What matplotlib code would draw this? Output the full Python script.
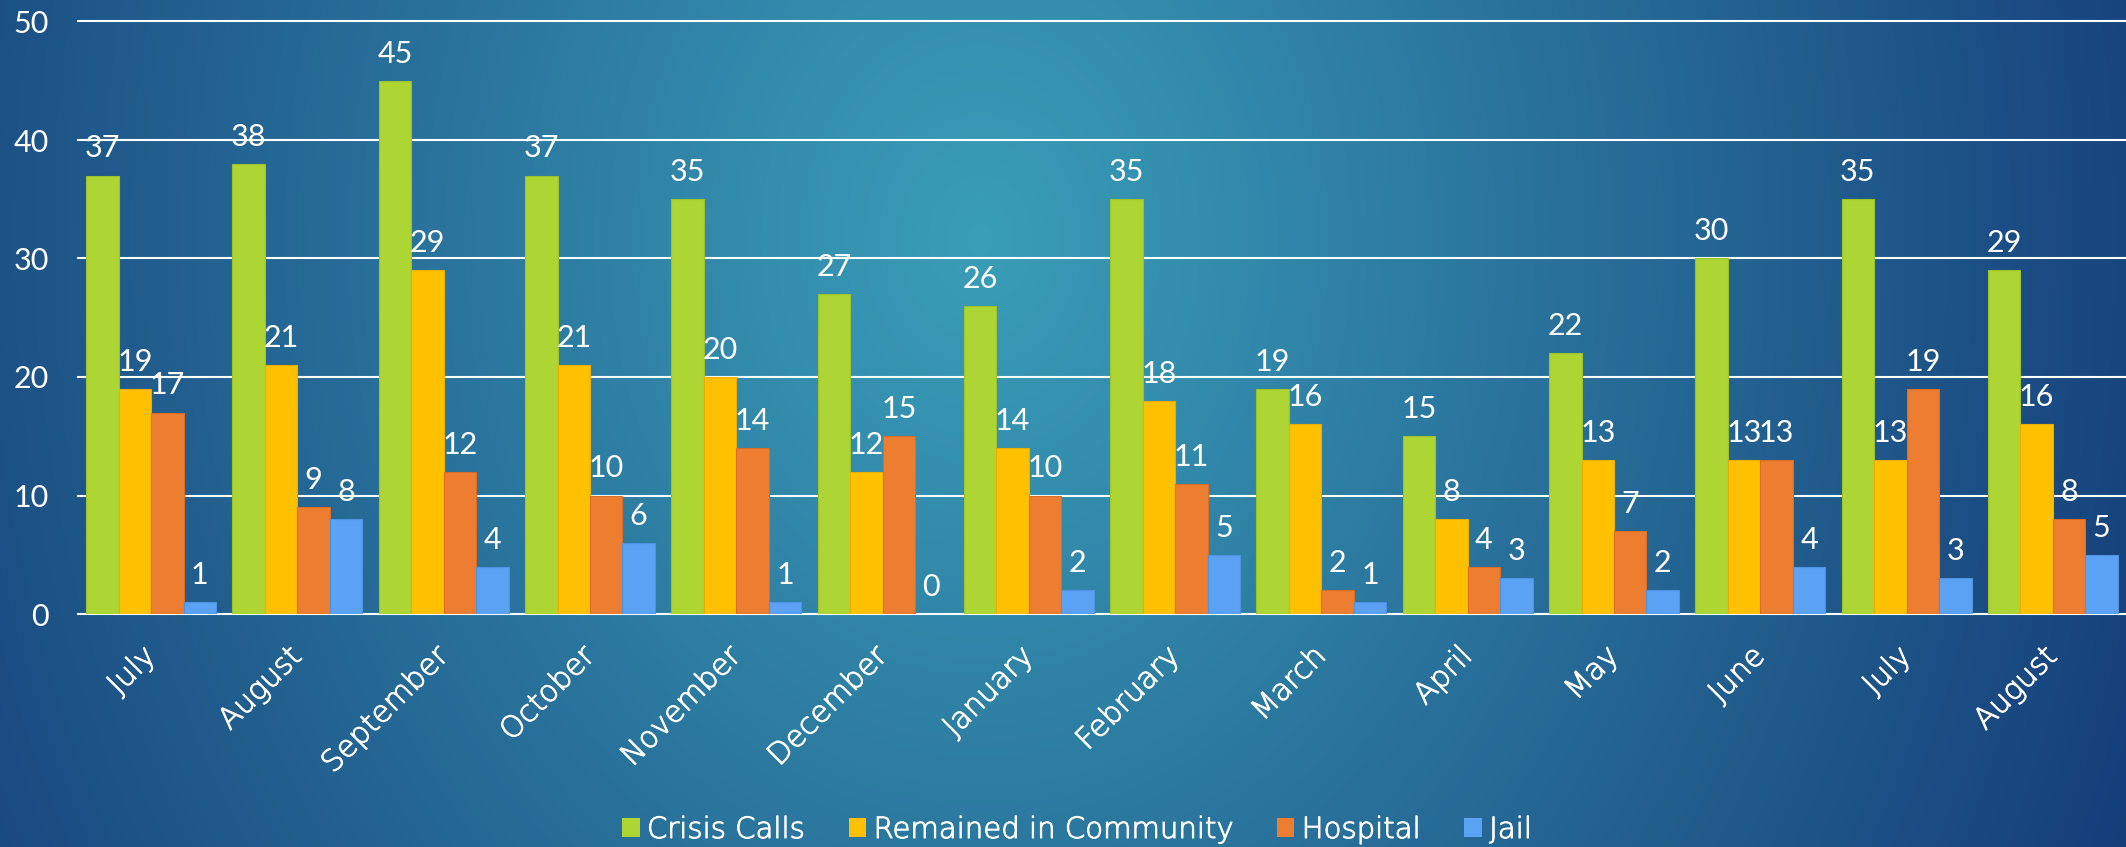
import numpy as np
import matplotlib
matplotlib.use("Agg")
import matplotlib.pyplot as plt
import matplotlib.patheffects as pe
from matplotlib.colors import to_rgb
from matplotlib import font_manager as fm

months = ["July", "August", "September", "October", "November", "December", "January",
          "February", "March", "April", "May", "June", "July", "August"]
series_names = ["Crisis Calls", "Remained in Community", "Hospital", "Jail"]
crisis_calls = [37, 38, 45, 37, 35, 27, 26, 35, 19, 15, 22, 30, 35, 29]
remained = [19, 21, 29, 21, 20, 12, 14, 18, 16, 8, 13, 13, 13, 16]
hospital = [17, 9, 12, 10, 14, 15, 10, 11, 2, 4, 7, 13, 19, 8]
jail = [1, 8, 4, 6, 1, 0, 2, 5, 1, 3, 2, 4, 3, 5]
y_ticks = [0, 10, 20, 30, 40, 50]

colors = ["#ADD533", "#FFC000", "#ED7D31", "#5BA1F4"]
edges = ["#9CC22C", "#E8AF00", "#D86E26", "#4F93E0"]

NUM_FONT = ["Lato", "DejaVu Sans"]
WORD_FONT = ["DejaVu Sans"]
plt.rcParams["font.family"] = NUM_FONT

# use a light weight of DejaVu Sans if one is installed, thickened slightly
word_weight = "normal"
for f in fm.fontManager.ttflist:
    if f.name == "DejaVu Sans" and f.weight in (200, 300, "light", "extra light"):
        word_weight = "light"
        break
word_fx = [pe.withStroke(linewidth=0.7, foreground="white")] if word_weight == "light" else []

W, H, DPI = 2126, 847, 100
fig = plt.figure(figsize=(W / DPI, H / DPI), dpi=DPI)

# background radial gradient
bg = fig.add_axes([0, 0, 1, 1])
bg.set_axis_off()
yy, xx = np.mgrid[0:H, 0:W]
cx, cy = 980.0, 240.0
d = np.sqrt((xx - cx) ** 2 + (0.8 * (yy - cy)) ** 2)
t = np.clip(d / 1250.0, 0, 1)[..., None]
c0 = np.array(to_rgb("#3A9EB8"))
c1 = np.array(to_rgb("#153D79"))
img = c0 * (1 - t) + c1 * t
bg.imshow(img, aspect="auto", extent=[0, 1, 0, 1], origin="upper")
bg.set_xlim(0, 1)
bg.set_ylim(0, 1)

left = 78 / W
bottom = (H - 614) / H
top = (H - 21.5) / H
ax = fig.add_axes([left, bottom, 1 - left, top - bottom])
ax.set_facecolor("none")

x = np.arange(len(months))
bw = 0.222
data = [crisis_calls, remained, hospital, jail]
for i, (vals, c, ec, name) in enumerate(zip(data, colors, edges, series_names)):
    pos = x + (i - 1.5) * bw
    ax.bar(pos, vals, width=bw, color=c, edgecolor=ec, linewidth=0.8, label=name, zorder=3)
    for px, v in zip(pos, vals):
        ax.annotate(str(v), (px, v), xytext=(0, 13), textcoords="offset points",
                    ha="center", va="baseline", color="white", fontsize=22, zorder=4)

ax.set_xlim(-0.5, len(months) - 0.5)
ax.set_ylim(0, 50)
ax.set_yticks(y_ticks)
ax.yaxis.grid(True, color="white", linewidth=1.5, zorder=1)
ax.set_axisbelow(True)
for gl in ax.yaxis.get_gridlines():
    gl.set_clip_on(False)
for s in ax.spines.values():
    s.set_visible(False)
ax.tick_params(axis="y", length=0, pad=21, labelsize=22, labelcolor="white")
ax.tick_params(axis="x", length=0, pad=27, labelsize=21.5, labelcolor="white")
ax.set_xticks(x)
ax.set_xticklabels(months)
plt.setp(ax.get_xticklabels(), rotation=45, ha="right", va="center", rotation_mode="anchor",
         family=WORD_FONT, fontweight=word_weight, path_effects=word_fx)

leg = fig.legend(loc="center", bbox_to_anchor=(1077 / W, (H - 830) / H), ncol=4,
                 frameon=False, handlelength=0.6, handleheight=0.6,
                 handletextpad=0.25, columnspacing=1.5, labelcolor="white",
                 prop={"family": WORD_FONT, "size": 21, "weight": word_weight})
for h in leg.legend_handles:
    h.set_linewidth(0)
for txt in leg.get_texts():
    txt.set_path_effects(word_fx)

fig.savefig("out.png", dpi=DPI)
